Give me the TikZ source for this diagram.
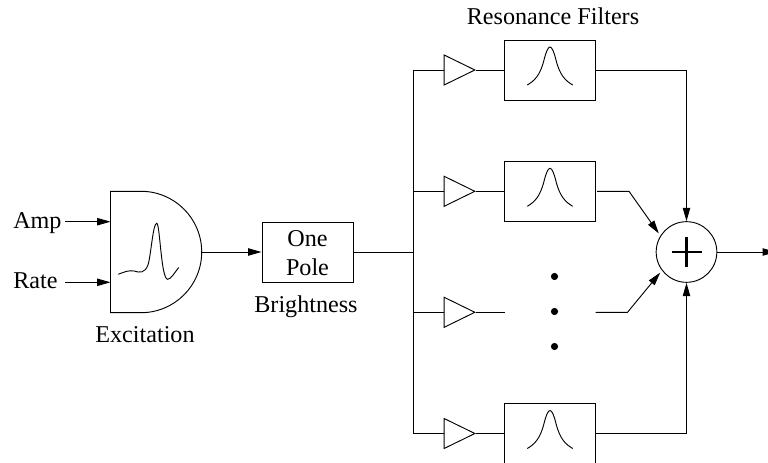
\documentclass[tikz,border=0pt]{standalone}
\usepackage{fontspec}
\setmainfont{Liberation Serif}
\usetikzlibrary{arrows.meta,shapes.geometric}
\tikzset{
    wire/.style={line width=0.7pt},
    feed/.style={wire,-{Triangle[length=10pt,width=5.5pt]}},
    lbl/.style={inner sep=0pt,anchor=base},
    filterbox/.style={draw,wire,minimum width=68.25pt,minimum height=45pt,inner sep=0pt},
    gain/.style={draw,wire,isosceles triangle,isosceles triangle stretches,minimum width=22.5pt,minimum height=23pt,inner sep=0pt,anchor=lower side},
    spot/.style={circle,fill=black,minimum size=5.4pt,inner sep=0pt},
    peakcurve/.pic={
        \draw [wire] (-22.7,15) .. controls (-16,11) and (-10,6) .. (-6,-10) .. controls (-4,-18) and (-2,-23) .. (0,-23) .. controls (2,-23) and (4,-18) .. (6,-10) .. controls (10,6) and (16,11) .. (22.7,15);
    }
}
\begin{document}
\begin{tikzpicture}[x=0.75pt,y=-0.75pt,font=\fontsize{18.1}{21}\selectfont]
    \useasboundingbox (0,0) rectangle (768,463);
    % excitation
    \node [minimum width=68.25pt,minimum height=91pt,inner sep=0pt] (excite) at (156,252) {};
    \draw [wire] (141,191.3) -- (110.5,191.3) -- (110.5,312.7) -- (141,312.7) arc (90:-90:60.7);
    \draw [wire] (118.3,274.3) .. controls (124,272) and (129,270) .. (134,271) .. controls (140,273) and (145,273) .. (148,265) .. controls (151,255) and (153,223.3) .. (156.7,223.3) .. controls (160,223.3) and (161,279.3) .. (167.7,279.3) .. controls (171,279.3) and (175,272) .. (178.7,267.5);
    \node [lbl] (excitelbl) at (145,342.7) {Excitation};
    \node [lbl,anchor=base west] (amp) at (13,229) {Amp};
    \node [lbl,anchor=base west] (rate) at (13,289) {Rate};
    \coordinate (ampin) at (65,221.7);
    \coordinate (ampto) at (110.5,221.7);
    \coordinate (ratein) at (65,282.3);
    \coordinate (rateto) at (110.5,282.3);
    \draw [feed] (ampin) -- (ampto);
    \draw [feed] (ratein) -- (rateto);
    % one pole
    \node [filterbox] (pole) at (307.5,252) {};
    \node [lbl] (one) at (307.5,247) {One};
    \node [lbl] (polelbl) at (307.5,276) {Pole};
    \node [lbl] (bright) at (306,312.7) {Brightness};
    \draw [feed] (excite.east) -- (pole.west);
    % bus
    \coordinate (bus0) at (413.5,252);
    \coordinate (bus1) at (413.5,70);
    \coordinate (bus2) at (413.5,191.3);
    \coordinate (bus3) at (413.5,312.3);
    \coordinate (bus4) at (413.5,433.5);
    \draw [wire] (pole.east) -- (bus0);
    \draw [wire] (bus1) -- (bus4);
    % gains
    \node [gain] (gain1) at (443.7,70) {};
    \node [gain] (gain2) at (443.7,191.3) {};
    \node [gain] (gain3) at (443.7,312.3) {};
    \node [gain] (gain4) at (443.7,433.5) {};
    \draw [wire] (bus1) -- (gain1.lower side);
    \draw [wire] (bus2) -- (gain2.lower side);
    \draw [wire] (bus3) -- (gain3.lower side);
    \draw [wire] (bus4) -- (gain4.lower side);
    % filters
    \node [filterbox] (filt1) at (550,70) {};
    \node [filterbox] (filt2) at (550,191.3) {};
    \node [filterbox] (filt4) at (550,433.5) {};
    \pic at (filt1.center) {peakcurve};
    \pic at (filt2.center) {peakcurve};
    \pic at (filt4.center) {peakcurve};
    \node [lbl] (reson) at (553,25) {Resonance Filters};
    \draw [wire] (gain1.apex) -- (filt1.west);
    \draw [wire] (gain2.apex) -- (filt2.west);
    \draw [wire] (gain4.apex) -- (filt4.west);
    \coordinate (gap3a) at (504.5,312.3);
    \coordinate (gap3b) at (595.5,312.3);
    \draw [wire] (gain3.apex) -- (gap3a);
    \node [spot] (dot1) at (554.5,276.5) {};
    \node [spot] (dot2) at (554.5,311.5) {};
    \node [spot] (dot3) at (554.5,346.5) {};
    % sum
    \node [draw,wire,circle,minimum size=45.5pt,inner sep=0pt] (sum) at (686.5,252) {};
    \draw [line width=2.2pt] (671.7,252) -- (701.7,252);
    \draw [line width=2.2pt] (686.5,236.7) -- (686.5,267);
    \coordinate (bend1) at (686.5,70);
    \coordinate (from2) at (597,191.3);
    \coordinate (bend2) at (629,191.3);
    \coordinate (bend3) at (627.5,312.3);
    \coordinate (bend4) at (686.5,433.5);
    \coordinate (outto) at (776,252);
    \draw [feed] (filt1.east) -- (bend1) -- (sum.north);
    \draw [feed,shorten >=2pt] (from2) -- (bend2) -- (sum.148);
    \draw [feed,shorten >=2pt] (gap3b) -- (bend3) -- (sum.217);
    \draw [feed] (filt4.east) -- (bend4) -- (sum.south);
    \draw [feed] (sum.east) -- (outto);
\end{tikzpicture}
\end{document}
